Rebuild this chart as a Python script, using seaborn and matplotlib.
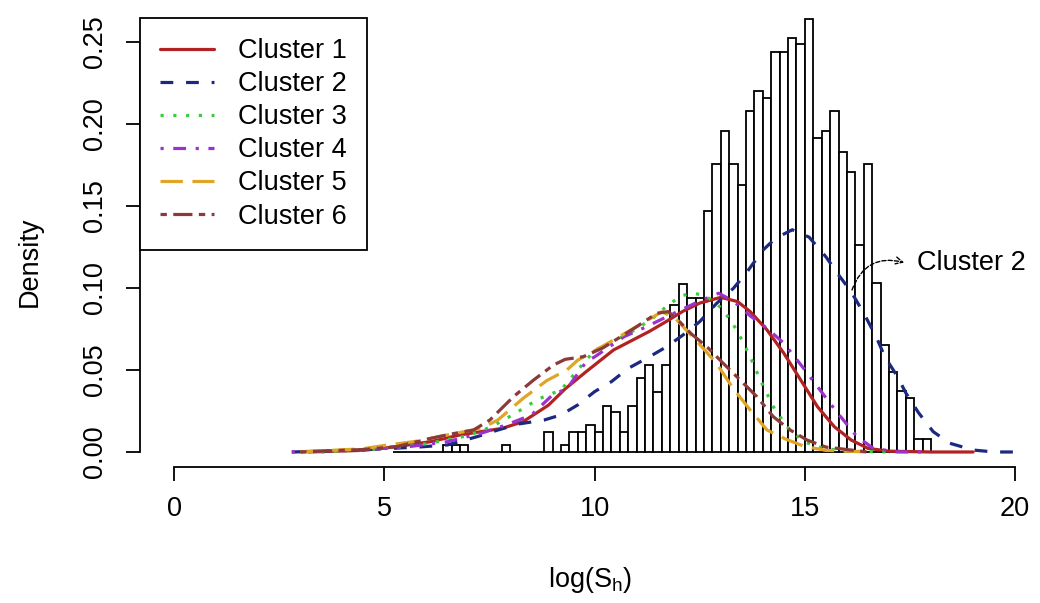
import matplotlib
matplotlib.use('Agg')
import matplotlib.pyplot as plt
import numpy as np
import seaborn as sns

# histogram of log(S_h): density per bin, bins of width 0.2 starting at 5.2
bin_start = 5.2
bin_width = 0.2
hist_density = [
    0, 0, 0, 0, 0, 0, 0.0043, 0.0043, 0.0043, 0,
    0, 0, 0, 0.0043, 0, 0, 0, 0, 0.0124, 0,
    0.0043, 0.0124, 0.0124, 0.0165, 0.0124, 0.0282, 0.0246, 0.0124, 0.0282, 0.0449,
    0.053, 0.0364, 0.053, 0.0896, 0.1024, 0.0937, 0.094, 0.147, 0.1756, 0.196,
    0.1756, 0.163, 0.208, 0.220, 0.216, 0.2437, 0.2437, 0.2522, 0.2486, 0.264,
    0.1917, 0.1957, 0.208, 0.1831, 0.1709, 0.126, 0.1756, 0.103, 0.065, 0.049,
    0.037, 0.033, 0.008, 0.008,
]

# density curves, one per cluster
c1_x = [3.2, 4.5, 5.3, 6.1, 6.8, 7.3, 7.8, 8.3, 8.9, 9.3, 9.8, 10.45, 11.3, 11.7, 12.1,
        12.5, 13.0, 13.4, 13.7, 14.1, 14.5, 14.9, 15.3, 15.7, 16.1, 16.5, 17.0, 18.0, 19.0]
c1_y = [0.0, 0.001, 0.0033, 0.0063, 0.0104, 0.0124, 0.0144, 0.0185, 0.0285, 0.0385, 0.049, 0.0622, 0.0735, 0.0795, 0.0858,
        0.0908, 0.0943, 0.0917, 0.0856, 0.0744, 0.0602, 0.0439, 0.0276, 0.0154, 0.0073, 0.0022, 0.0005, 0.0, 0.0]

c2_x = [2.8, 4.0, 5.0, 5.8, 6.5, 7.2, 7.7, 8.2, 8.8, 9.2, 9.6, 10.0, 10.4, 10.8, 11.3, 11.7, 12.1,
        12.5, 12.9, 13.3, 13.6, 14.0, 14.3, 14.7, 15.1, 15.5, 15.8, 16.1, 16.4, 16.7, 16.9, 17.2,
        17.4, 17.7, 18.05, 18.45, 19.0, 19.5, 20.1]
c2_y = [0.0, 0.0008, 0.002, 0.003, 0.0043, 0.0093, 0.0134, 0.0171, 0.0195, 0.0226, 0.0287, 0.0368, 0.0429, 0.051, 0.058, 0.064, 0.0713,
        0.0795, 0.0906, 0.0998, 0.109, 0.123, 0.1303, 0.1355, 0.131, 0.119, 0.108, 0.0977, 0.0846, 0.070, 0.0581, 0.046,
        0.036, 0.024, 0.0124, 0.0053, 0.0012, 0.0, 0.0]

c3_x = [3.5, 5.0, 6.0, 7.0, 7.55, 8.05, 8.5, 8.7, 9.2, 9.6, 10.0, 10.5, 11.0, 11.4, 11.8, 12.1,
        12.35, 12.6, 12.8, 13.06, 13.38, 13.7, 13.94, 14.25, 14.57, 14.97, 15.44, 16.0, 17.0]
c3_y = [0.0, 0.002, 0.005, 0.010, 0.0154, 0.0226, 0.0297, 0.0327, 0.0378, 0.050, 0.062, 0.068, 0.075, 0.082, 0.0907, 0.0955,
        0.0968, 0.0955, 0.0925, 0.0866, 0.0744, 0.0581, 0.0439, 0.0276, 0.0154, 0.0063, 0.0022, 0.0005, 0.0]

c4_x = [2.8, 4.5, 5.5, 6.5, 7.3, 7.9, 8.5, 9.0, 9.35, 9.8, 10.0, 10.7, 11.2, 11.6, 12.0,
        12.5, 12.95, 13.3, 13.7, 14.1, 14.5, 14.97, 15.36, 15.72, 16.24, 16.63, 17.2, 18.0]
c4_y = [0.0, 0.0015, 0.003, 0.0063, 0.0114, 0.0165, 0.0226, 0.0348, 0.0388, 0.055, 0.058, 0.0703, 0.076, 0.081, 0.086,
        0.092, 0.0968, 0.092, 0.083, 0.0754, 0.0663, 0.051, 0.0378, 0.0256, 0.0093, 0.0022, 0.0, 0.0]

c5_x = [3.0, 4.5, 5.0, 5.7, 6.5, 7.3, 7.7, 8.3, 8.86, 9.34, 9.6, 10.5, 11.3, 11.6, 11.9, 12.45,
        12.9, 13.3, 13.7, 14.1, 14.55, 15.0, 15.5, 16.5]
c5_y = [0.0, 0.002, 0.004, 0.0063, 0.0104, 0.0144, 0.0195, 0.0327, 0.0435, 0.050, 0.056, 0.069, 0.081, 0.0855, 0.082, 0.067,
        0.054, 0.0385, 0.0256, 0.0134, 0.0078, 0.0033, 0.001, 0.0]

c6_x = [3.0, 4.5, 5.3, 6.1, 6.6, 7.12, 7.51, 8.07, 8.55, 9.02, 9.3, 9.73, 10.2, 11.0, 11.48, 11.75,
        12.0, 12.3, 12.67, 13.06, 13.46, 13.86, 14.25, 14.65, 15.05, 15.5, 16.5]
c6_y = [0.0, 0.0015, 0.0033, 0.0083, 0.011, 0.0134, 0.0195, 0.0337, 0.0439, 0.053, 0.0565, 0.0581, 0.0635, 0.0764, 0.0846, 0.0856,
        0.080, 0.072, 0.0642, 0.054, 0.0439, 0.0337, 0.0215, 0.0134, 0.0073, 0.003, 0.0]

clusters = ['Cluster 1', 'Cluster 2', 'Cluster 3', 'Cluster 4', 'Cluster 5', 'Cluster 6']
curve_x = [c1_x, c2_x, c3_x, c4_x, c5_x, c6_x]
curve_y = [c1_y, c2_y, c3_y, c4_y, c5_y, c6_y]
colors = ['#B22222', '#1B2A80', '#3CCB3C', '#9A32CD', '#E0A526', '#8B3A3A']
styles = ['-', (0, (4, 4)), (0, (1, 3)), (0, (1, 3, 4, 3)), (0, (7, 3)), (0, (2, 2, 6, 2))]

sns.set_style('white')
plt.rcParams['font.family'] = ['Liberation Sans', 'DejaVu Sans']
plt.rcParams['mathtext.fontset'] = 'custom'
plt.rcParams['mathtext.rm'] = 'Liberation Sans'
for key in ['text.color', 'axes.labelcolor', 'xtick.color', 'ytick.color']:
    plt.rcParams[key] = 'black'
fs = 19.5

fig = plt.figure(figsize=(10.4, 6.03), dpi=100)
ax = fig.add_axes([140 / 1040, 1 - 467 / 603, 900 / 1040, 467 / 603])

edges = [bin_start + bin_width * i for i in range(len(hist_density) + 1)]
centers = [bin_start + bin_width * (i + 0.5) for i in range(len(hist_density))]
sns.histplot(x=centers, weights=hist_density, bins=edges, stat='count',
             color='white', edgecolor='black', linewidth=1.3, alpha=1, ax=ax)

for name, xs, ys, col, ls in zip(clusters, curve_x, curve_y, colors, styles):
    sns.lineplot(x=xs, y=ys, color=col, linewidth=2.3, linestyle=ls, label=name, ax=ax)

# curved arrow to the Cluster 2 curve
ax.annotate('', xy=(17.36, 0.1155), xytext=(16.12, 0.0988),
            arrowprops=dict(arrowstyle='->,head_length=0.5,head_width=0.25',
                            connectionstyle='arc3,rad=-0.45', color='black',
                            lw=1.0, linestyle=(0, (3, 1.5)), shrinkA=0, shrinkB=0))
ax.text(17.67, 0.1152, 'Cluster 2', fontsize=fs, va='center', ha='left')

ax.set_xlim(-0.809, 20.59)
ax.set_ylim(-0.00915, 0.2756)

# R-style detached axes
for side in ['top', 'right']:
    ax.spines[side].set_visible(False)
ax.spines['left'].set_bounds(0, 0.25)
ax.spines['bottom'].set_bounds(0, 20)
for side in ['left', 'bottom']:
    ax.spines[side].set_color('black')
    ax.spines[side].set_linewidth(1.3)

ax.set_xticks([0, 5, 10, 15, 20])
ax.set_yticks([0, 0.05, 0.10, 0.15, 0.20, 0.25])
ax.set_yticklabels(['0.00', '0.05', '0.10', '0.15', '0.20', '0.25'])
ax.tick_params(axis='both', direction='out', length=10, width=1.3, color='black',
               labelsize=fs, left=True, bottom=True)
ax.tick_params(axis='x', pad=11)
ax.tick_params(axis='y', pad=13)
for lab in ax.get_yticklabels():
    lab.set_rotation(90)
    lab.set_va('center')

ax.set_xlabel('log(S$_\\mathrm{h}$)', fontsize=fs)
ax.set_ylabel('Density', fontsize=fs)
ax.xaxis.label.set_va('center')
ax.yaxis.label.set_va('center')
ax.xaxis.set_label_coords(0.5, -113 / 467)
ax.yaxis.set_label_coords(-110 / 900, (467 - 262) / 467)

handles, labels = ax.get_legend_handles_labels()
leg = ax.legend(handles, labels, loc='upper left', bbox_to_anchor=(0, 1 - 18 / 467),
                borderaxespad=0, fontsize=fs, handlelength=2.0, handletextpad=0.85,
                labelspacing=0.26, borderpad=0.75, fancybox=False, framealpha=1)
leg.get_frame().set_edgecolor('black')
leg.get_frame().set_linewidth(1.3)

fig.savefig('out.png', dpi=100)
